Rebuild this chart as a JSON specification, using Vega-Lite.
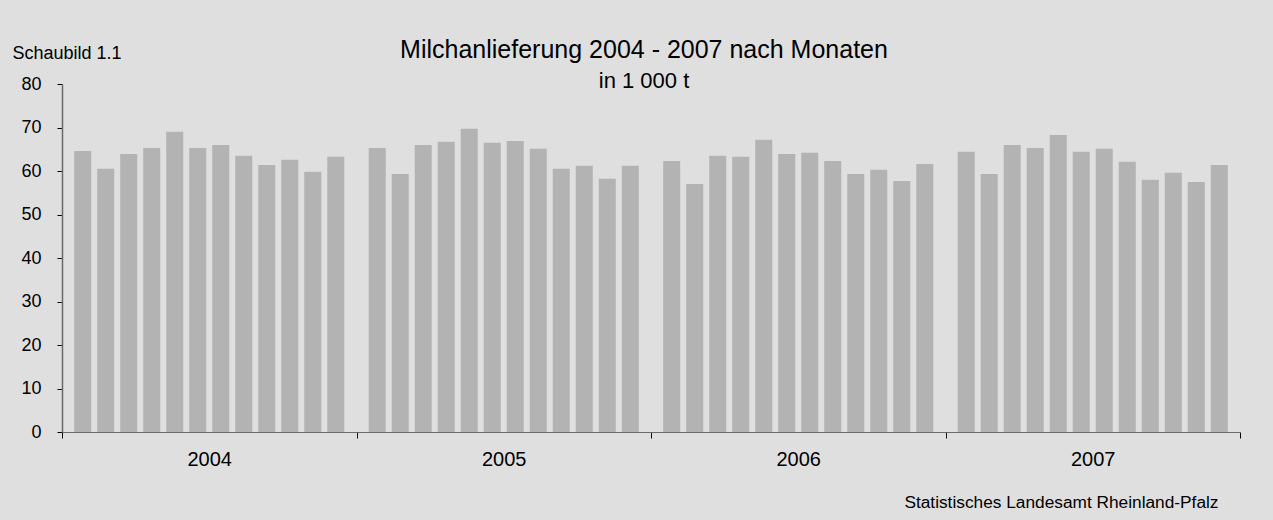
{
  "$schema": "https://vega.github.io/schema/vega-lite/v6.json",
  "autosize": {"type": "none"},
  "padding": {"left": 62, "top": 84, "right": 33, "bottom": 88},
  "width": 1178,
  "height": 348,
  "background": "#dfdfdf",
  "config": {
    "font": "Liberation Sans",
    "view": {"stroke": null},
    "axis": {"grid": false, "labelFont": "Liberation Sans", "titleFont": "Liberation Sans", "labelColor": "#000000", "titleColor": "#000000", "titleFontWeight": "normal"}
  },
  "title": {
    "text": "Milchanlieferung 2004 - 2007 nach Monaten",
    "subtitle": "in 1 000 t",
    "anchor": "middle",
    "frame": "group",
    "dx": -7,
    "offset": -48,
    "fontSize": 25,
    "fontWeight": "normal",
    "color": "#000000",
    "subtitleFontSize": 22,
    "subtitleColor": "#000000",
    "subtitlePadding": 8,
    "font": "Liberation Sans",
    "subtitleFont": "Liberation Sans"
  },
  "data": {
    "values": [
      {"Jahr": "2004", "Monat": 1, "Menge": 64.6},
      {"Jahr": "2004", "Monat": 2, "Menge": 60.5},
      {"Jahr": "2004", "Monat": 3, "Menge": 63.9},
      {"Jahr": "2004", "Monat": 4, "Menge": 65.3},
      {"Jahr": "2004", "Monat": 5, "Menge": 69.0},
      {"Jahr": "2004", "Monat": 6, "Menge": 65.3},
      {"Jahr": "2004", "Monat": 7, "Menge": 66.0},
      {"Jahr": "2004", "Monat": 8, "Menge": 63.5},
      {"Jahr": "2004", "Monat": 9, "Menge": 61.4},
      {"Jahr": "2004", "Monat": 10, "Menge": 62.6},
      {"Jahr": "2004", "Monat": 11, "Menge": 59.8},
      {"Jahr": "2004", "Monat": 12, "Menge": 63.3},
      {"Jahr": "2005", "Monat": 1, "Menge": 65.3},
      {"Jahr": "2005", "Monat": 2, "Menge": 59.3},
      {"Jahr": "2005", "Monat": 3, "Menge": 66.0},
      {"Jahr": "2005", "Monat": 4, "Menge": 66.7},
      {"Jahr": "2005", "Monat": 5, "Menge": 69.7},
      {"Jahr": "2005", "Monat": 6, "Menge": 66.5},
      {"Jahr": "2005", "Monat": 7, "Menge": 66.9},
      {"Jahr": "2005", "Monat": 8, "Menge": 65.1},
      {"Jahr": "2005", "Monat": 9, "Menge": 60.5},
      {"Jahr": "2005", "Monat": 10, "Menge": 61.2},
      {"Jahr": "2005", "Monat": 11, "Menge": 58.2},
      {"Jahr": "2005", "Monat": 12, "Menge": 61.2},
      {"Jahr": "2006", "Monat": 1, "Menge": 62.3},
      {"Jahr": "2006", "Monat": 2, "Menge": 57.0},
      {"Jahr": "2006", "Monat": 3, "Menge": 63.5},
      {"Jahr": "2006", "Monat": 4, "Menge": 63.3},
      {"Jahr": "2006", "Monat": 5, "Menge": 67.2},
      {"Jahr": "2006", "Monat": 6, "Menge": 63.9},
      {"Jahr": "2006", "Monat": 7, "Menge": 64.2},
      {"Jahr": "2006", "Monat": 8, "Menge": 62.3},
      {"Jahr": "2006", "Monat": 9, "Menge": 59.3},
      {"Jahr": "2006", "Monat": 10, "Menge": 60.3},
      {"Jahr": "2006", "Monat": 11, "Menge": 57.7},
      {"Jahr": "2006", "Monat": 12, "Menge": 61.6},
      {"Jahr": "2007", "Monat": 1, "Menge": 64.4},
      {"Jahr": "2007", "Monat": 2, "Menge": 59.3},
      {"Jahr": "2007", "Monat": 3, "Menge": 66.0},
      {"Jahr": "2007", "Monat": 4, "Menge": 65.3},
      {"Jahr": "2007", "Monat": 5, "Menge": 68.3},
      {"Jahr": "2007", "Monat": 6, "Menge": 64.4},
      {"Jahr": "2007", "Monat": 7, "Menge": 65.1},
      {"Jahr": "2007", "Monat": 8, "Menge": 62.1},
      {"Jahr": "2007", "Monat": 9, "Menge": 58.0},
      {"Jahr": "2007", "Monat": 10, "Menge": 59.6},
      {"Jahr": "2007", "Monat": 11, "Menge": 57.5},
      {"Jahr": "2007", "Monat": 12, "Menge": 61.4}
    ]
  },
  "mark": {"type": "bar", "color": "#b3b3b3"},
  "encoding": {
    "x": {
      "field": "Jahr",
      "type": "nominal",
      "scale": {"paddingInner": 0, "paddingOuter": 0},
      "axis": {
        "title": "Statistisches Landesamt Rheinland-Pfalz",
        "titleFontSize": 17.3,
        "titleAlign": "right",
        "titleAnchor": null,
        "titleBaseline": "alphabetic",
        "titleX": 1156,
        "titleY": 75,
        "labelAngle": 0,
        "labelFontSize": 20,
        "labelPadding": 11,
        "tickBand": "extent",
        "tickSize": 6,
        "tickColor": "#000000",
        "domainColor": "#6a6a6a",
        "domainWidth": 1
      }
    },
    "xOffset": {
      "field": "Monat",
      "type": "ordinal",
      "scale": {"paddingInner": 0.26, "paddingOuter": 0.53}
    },
    "y": {
      "field": "Menge",
      "type": "quantitative",
      "scale": {"domain": [0, 80], "nice": false},
      "axis": {
        "title": "Schaubild 1.1",
        "titleFontSize": 18,
        "titleAngle": 0,
        "titleAlign": "left",
        "titleBaseline": "alphabetic",
        "titleAnchor": null,
        "titleX": -50,
        "titleY": -26,
        "values": [0, 10, 20, 30, 40, 50, 60, 70, 80],
        "labelFontSize": 18,
        "labelPadding": 16,
        "tickSize": 5,
        "tickColor": "#000000",
        "domainColor": "#6a6a6a",
        "domainWidth": 1.5
      }
    }
  }
}
